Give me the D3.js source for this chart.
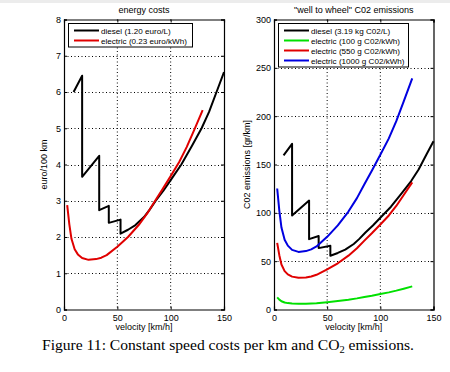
<!DOCTYPE html>
<html><head><meta charset="utf-8">
<script src="https://cdn.jsdelivr.net/npm/d3@7"></script>
<style>html,body{margin:0;padding:0;background:#fff;}svg{display:block;}</style>
</head><body>
<svg id="c" width="450" height="372"></svg>
<script>
// ---- data ----
const xTicks = [0, 50, 100, 150];
const costTicks = [0, 1, 2, 3, 4, 5, 6, 7, 8];
const co2Ticks = [0, 50, 100, 150, 200, 250, 300];

// energy costs [euro/100 km]
const dieselV    = [9, 17, 17, 33, 33, 42, 42, 53, 53, 60, 67, 75, 80, 86, 93, 100, 110, 120, 129, 136, 143, 150];
const dieselCost = [6.0, 6.45, 3.66, 4.24, 2.74, 2.86, 2.39, 2.48, 2.09, 2.2, 2.33, 2.55, 2.74, 3.0, 3.27, 3.57, 4.0, 4.52, 5.0, 5.45, 6.0, 6.55];
const elecV      = [3, 5, 7, 10, 13, 17, 23, 30, 35, 40, 50, 60, 70, 78, 85, 92, 100, 108, 115, 122, 130];
const elecCost   = [2.88, 2.35, 1.95, 1.66, 1.52, 1.42, 1.37, 1.39, 1.43, 1.5, 1.73, 2.0, 2.33, 2.65, 2.98, 3.3, 3.68, 4.07, 4.48, 4.95, 5.5];

// CO2 emissions [gr/km]
const dieselCO2  = [159.5, 171.4, 97.3, 112.7, 72.8, 76, 63.5, 65.9, 55.6, 58.5, 61.9, 67.8, 72.8, 79.7, 86.9, 94.9, 106.3, 120.1, 132.9, 144.9, 159.5, 174.1];
const elec100CO2 = [12.5, 10.2, 8.5, 7.2, 6.6, 6.2, 6.0, 6.0, 6.2, 6.5, 7.5, 8.7, 10.1, 11.5, 13.0, 14.3, 16.0, 17.7, 19.5, 21.5, 23.9];
const elec550CO2 = [68.9, 56.2, 46.6, 39.7, 36.3, 34.0, 32.8, 33.2, 34.2, 35.9, 41.4, 47.8, 55.7, 63.4, 71.3, 78.9, 88.0, 97.3, 107.1, 118.4, 131.5];
const elec1000CO2= [125.2, 102.2, 84.8, 72.2, 66.1, 61.7, 59.6, 60.4, 62.2, 65.2, 75.2, 87.0, 101.3, 115.2, 129.6, 143.5, 160.0, 177.0, 194.8, 215.2, 239.1];

const costLegend = ["diesel (1.20 euro/L)", "electric (0.23 euro/kWh)"];
const co2Legend = ["diesel (3.19 kg C02/L)", "electric (100 g C02/kWh)", "electric (550 g C02/kWh)", "electric (1000 g C02/kWh)"];

// ---- drawing ----
const svg = d3.select("#c");
const font = "'Liberation Sans', Arial, sans-serif";
svg.append("rect").attr("x",0).attr("y",0).attr("width",450).attr("height",3).attr("fill","#ececec");

function panel(opts) {
  const x = d3.scaleLinear().domain([0,150]).range([opts.x0, opts.x1]);
  const y = d3.scaleLinear().domain(opts.yDomain).range([309.5, 19.5]);
  const g = svg.append("g");
  // grid
  opts.xGrid.forEach(v => g.append("line").attr("x1", x(v)).attr("x2", x(v)).attr("y1", 19.5).attr("y2", 309.5)
    .attr("stroke","#000").attr("stroke-width",1).attr("stroke-dasharray","1,2.5"));
  opts.yTicks.slice(1,-1).forEach(v => g.append("line").attr("x1", opts.x0).attr("x2", opts.x1).attr("y1", Math.round(y(v))+0.5).attr("y2", Math.round(y(v))+0.5)
    .attr("stroke","#000").attr("stroke-width",1).attr("stroke-dasharray","1,2.5"));
  // axes
  const ax = g.append("g").attr("transform", `translate(0,309.5)`)
    .call(d3.axisBottom(x).tickValues(xTicks).tickSize(-3).tickPadding(5).tickFormat(d3.format("d")));
  const ay = g.append("g").attr("transform", `translate(${opts.x0},0)`)
    .call(d3.axisLeft(y).tickValues(opts.yTicks).tickSize(-3).tickPadding(3).tickFormat(d3.format("d")));
  const axt = g.append("g").attr("transform", `translate(0,19.5)`)
    .call(d3.axisTop(x).tickValues(xTicks).tickSize(-3).tickFormat(""));
  const ayr = g.append("g").attr("transform", `translate(${opts.x1},0)`)
    .call(d3.axisRight(y).tickValues(opts.yTicks).tickSize(-3).tickFormat(""));
  [ax, ay, axt, ayr].forEach(a => {
    a.select(".domain").attr("stroke","#000").attr("stroke-width",1.2);
    a.selectAll("text").attr("font-family", font).attr("font-size", 9).attr("fill","#000");
  });
  // lines
  const line = d3.line().x(d => x(d[0])).y(d => y(d[1]));
  opts.series.forEach(s => {
    g.append("path").datum(s.v.map((v,i) => [v, s.y[i]])).attr("d", line)
      .attr("fill","none").attr("stroke", s.color).attr("stroke-width", 2).attr("stroke-linejoin","round");
  });
  // title, labels
  g.append("text").attr("x", (opts.x0+opts.x1)/2).attr("y", 13).attr("text-anchor","middle")
    .attr("font-family", font).attr("font-size", 9).text(opts.title);
  g.append("text").attr("x", (opts.x0+opts.x1)/2).attr("y", 330).attr("text-anchor","middle")
    .attr("font-family", font).attr("font-size", 9).text("velocity [km/h]");
  g.append("text").attr("transform", `translate(${opts.ylabX},164.5) rotate(-90)`).attr("text-anchor","middle")
    .attr("font-family", font).attr("font-size", 9).text(opts.ylabel);
  // legend
  const lg = g.append("g");
  lg.append("rect").attr("x", opts.x0+4.5).attr("y", 23.5).attr("width", opts.legW).attr("height", 10*opts.series.length+3.5)
    .attr("fill","#fff").attr("stroke","#000").attr("stroke-width",1);
  opts.series.forEach((s,i) => {
    const yy = 30.5 + i*10;
    lg.append("line").attr("x1", opts.x0+10).attr("x2", opts.x0+35).attr("y1", yy).attr("y2", yy)
      .attr("stroke", s.color).attr("stroke-width", 2);
    lg.append("text").attr("x", opts.x0+37).attr("y", yy+3).attr("font-family", font).attr("font-size", 8.1)
      .text(opts.legend[i]);
  });
}

panel({
  x0: 64, x1: 224, yDomain: [0,8], yTicks: costTicks, xGrid: [50,100],
  title: "energy costs", ylabel: "euro/100 km", ylabX: 47, legW: 124, legend: costLegend,
  series: [{v: dieselV, y: dieselCost, color: "#000"}, {v: elecV, y: elecCost, color: "#e00000"}]
});
panel({
  x0: 274, x1: 433.5, yDomain: [0,300], yTicks: co2Ticks, xGrid: [50,100],
  title: "\"well to wheel\" C02 emissions", ylabel: "C02 emissions [gr/km]", ylabX: 250, legW: 130, legend: co2Legend,
  series: [{v: dieselV, y: dieselCO2, color: "#000"}, {v: elecV, y: elec100CO2, color: "#00e000"},
           {v: elecV, y: elec550CO2, color: "#e00000"}, {v: elecV, y: elec1000CO2, color: "#0000e0"}]
});

const cap = svg.append("text").attr("x", 42).attr("y", 350)
  .attr("font-family", "'Liberation Serif', 'Times New Roman', serif")
  .attr("font-size", 15.6).attr("fill","#000");
cap.append("tspan").text("Figure 11: Constant speed costs per km and CO");
cap.append("tspan").attr("font-size", 10.5).attr("dy", 3).text("2");
cap.append("tspan").attr("dy", -3).text(" emissions.");
</script>
</body></html>
